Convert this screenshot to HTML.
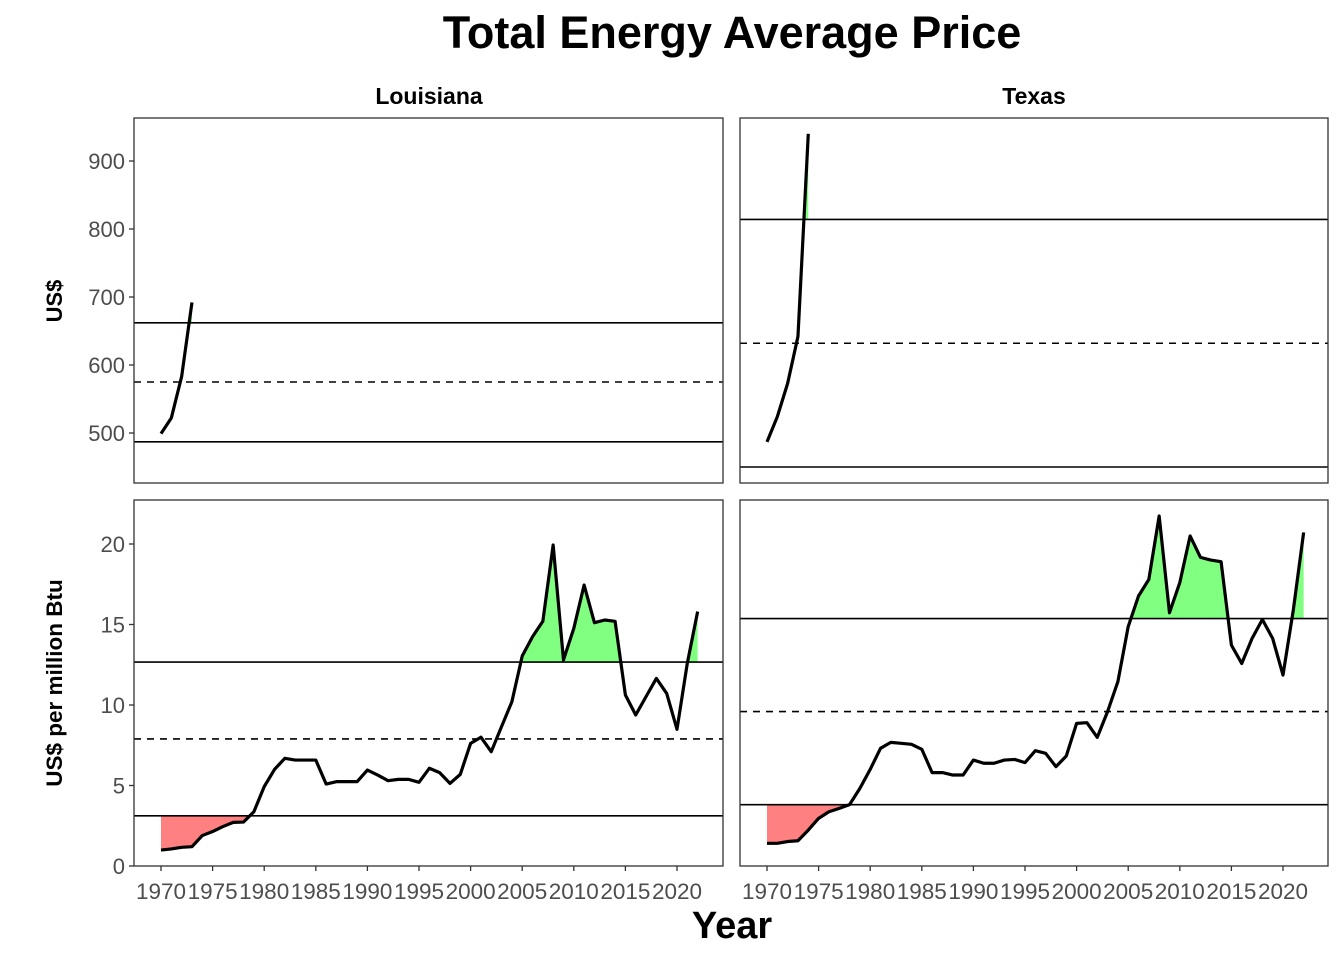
<!DOCTYPE html>
<html><head><meta charset="utf-8"><style>
body{margin:0;background:#fff}
svg{display:block}
text{font-family:"Liberation Sans",Arial,sans-serif}
</style></head><body>
<svg id="chart" width="1344" height="960" viewBox="0 0 1344 960" xmlns="http://www.w3.org/2000/svg">
<text x="732" y="48" text-anchor="middle" font-size="45" font-weight="bold">Total Energy Average Price</text>
<text x="732" y="938" text-anchor="middle" font-size="38" font-weight="bold">Year</text>
<text transform="translate(62,301) rotate(-90)" text-anchor="middle" font-size="22" font-weight="bold">US$</text>
<text transform="translate(62,683) rotate(-90)" text-anchor="middle" font-size="22.5" font-weight="bold">US$ per million Btu</text>
<text x="429" y="104" text-anchor="middle" font-size="23" font-weight="bold">Louisiana</text>
<text x="1034" y="104" text-anchor="middle" font-size="23" font-weight="bold">Texas</text>
<g id="plots"></g>
</svg>
<script>
const laTopYears = [1970,1971,1972,1973];
const laTopValues = [499,522,583,692];
const laTopLines = [487,575,662];
const txTopYears = [1970,1971,1972,1973,1974];
const txTopValues = [487,524,573,642,940];
const txTopLines = [450,632,814];
const laBotYears = [1970,1971,1972,1973,1974,1975,1976,1977,1978,1979,1980,1981,1982,1983,1984,1985,1986,1987,1988,1989,1990,1991,1992,1993,1994,1995,1996,1997,1998,1999,2000,2001,2002,2003,2004,2005,2006,2007,2008,2009,2010,2011,2012,2013,2014,2015,2016,2017,2018,2019,2020,2021,2022];
const laBotValues = [0.99,1.06,1.16,1.2,1.89,2.14,2.45,2.71,2.73,3.37,4.93,6.0,6.69,6.58,6.58,6.58,5.09,5.24,5.24,5.24,5.96,5.65,5.3,5.38,5.38,5.2,6.07,5.8,5.13,5.69,7.62,8.0,7.1,8.66,10.2,13.04,14.24,15.2,19.94,12.8,14.76,17.45,15.11,15.28,15.2,10.62,9.38,10.52,11.65,10.72,8.49,12.6,15.8];
const laBotLines = [3.12,7.89,12.67];
const txBotYears = laBotYears.slice();
const txBotValues = [1.41,1.41,1.52,1.57,2.23,2.96,3.37,3.58,3.81,4.82,6.0,7.31,7.68,7.62,7.56,7.25,5.8,5.8,5.65,5.65,6.58,6.38,6.38,6.58,6.62,6.42,7.16,7.0,6.17,6.83,8.86,8.9,7.99,9.59,11.45,14.87,16.77,17.8,21.74,15.73,17.6,20.5,19.17,19.0,18.9,13.72,12.58,14.13,15.31,14.13,11.86,15.9,20.72];
const txBotLines = [3.81,9.59,15.37];
const xTicks = [1970,1975,1980,1985,1990,1995,2000,2005,2010,2015,2020];
const yTicksTop = [500,600,700,800,900];
const yTicksBot = [0,5,10,15,20];

const NS="http://www.w3.org/2000/svg";
const root=document.getElementById('plots');
function mk(tag,attrs,parent){const e=document.createElementNS(NS,tag);for(const k in attrs)e.setAttribute(k,attrs[k]);(parent||root).appendChild(e);return e;}
let clipId=0;
function panel(name,px0,px1,py0,py1,xs,ys,years,vals,lines,showY,yTicks,showX){
  const g=mk('g',{});
  
  
  const xp=v=>xs.p0+(v-xs.v0)*(xs.p1-xs.p0)/(xs.v1-xs.v0);
  const yp=v=>ys.p0+(v-ys.v0)*(ys.p1-ys.p0)/(ys.v1-ys.v0);
  const lo=yp(lines[0]),hi=yp(lines[2]);
  const pts=years.map((y,i)=>xp(y)+','+yp(vals[i])).join(' ');
  const xa=xp(years[0]),xb=xp(years[years.length-1]);
  const cg='cg'+(clipId++);
  const cp=mk('clipPath',{id:cg},g);mk('rect',{x:px0,y:py0,width:px1-px0,height:hi-py0},cp);
  const fg=mk('polygon',{points:xa+','+hi+' '+pts+' '+xb+','+hi,fill:'#80ff80','clip-path':'url(#'+cg+')'},g);
  
  
  const cr='cr'+(clipId++);
  const cp2=mk('clipPath',{id:cr},g);mk('rect',{x:px0,y:lo,width:px1-px0,height:py1-lo},cp2);
  const fr=mk('polygon',{points:xa+','+lo+' '+pts+' '+xb+','+lo,fill:'#ff8080','clip-path':'url(#'+cr+')'},g);
  
  
  lines.forEach((l,i)=>{
    const ln=mk('line',{x1:px0,x2:px1,y1:yp(l),y2:yp(l),stroke:'#000','stroke-width':1.6},g);
    if(i===1)ln.setAttribute('stroke-dasharray','7,6');
    
    
  });
  const pl=mk('polyline',{points:pts,fill:'none',stroke:'#000','stroke-width':3.2,'stroke-linejoin':'round'},g);
  
  
  const fr2=mk('rect',{x:px0,y:py0,width:px1-px0,height:py1-py0,fill:'none',stroke:'#333','stroke-width':1.3},g);
  
  
  if(showY){yTicks.forEach(t=>{
    const y=yp(t);
    mk('line',{x1:px0-5,x2:px0,y1:y,y2:y,stroke:'#333','stroke-width':1.3},g);
    const tx=mk('text',{x:px0-9,y:y+8,'text-anchor':'end','font-size':22,fill:'#4d4d4d'},g);
    tx.textContent=t;
    
    
  });}
  if(showX){xTicks.forEach(t=>{
    const x=xp(t);
    mk('line',{x1:x,x2:x,y1:py1,y2:py1+5,stroke:'#333','stroke-width':1.3},g);
    const tx=mk('text',{x:x,y:py1+33,'text-anchor':'middle','font-size':22.5,fill:'#4d4d4d'},g);
    tx.textContent=t;
    
    
  });}
}
const xsL={v0:1970,v1:2020,p0:161,p1:677};
const xsT={v0:1970,v1:2020,p0:767,p1:1283};
const ysTop={v0:500,v1:900,p0:433,p1:161};
const ysBot={v0:0,v1:20,p0:866,p1:544};
panel('louisiana-top-panel',134,723,118,483,xsL,ysTop,laTopYears,laTopValues,laTopLines,true,yTicksTop,false);
panel('texas-top-panel',740,1328,118,483,xsT,ysTop,txTopYears,txTopValues,txTopLines,false,yTicksTop,false);
panel('louisiana-bottom-panel',134,723,500,866,xsL,ysBot,laBotYears,laBotValues,laBotLines,true,yTicksBot,true);
panel('texas-bottom-panel',740,1328,500,866,xsT,ysBot,txBotYears,txBotValues,txBotLines,false,yTicksBot,true);
</script>
</body></html>
